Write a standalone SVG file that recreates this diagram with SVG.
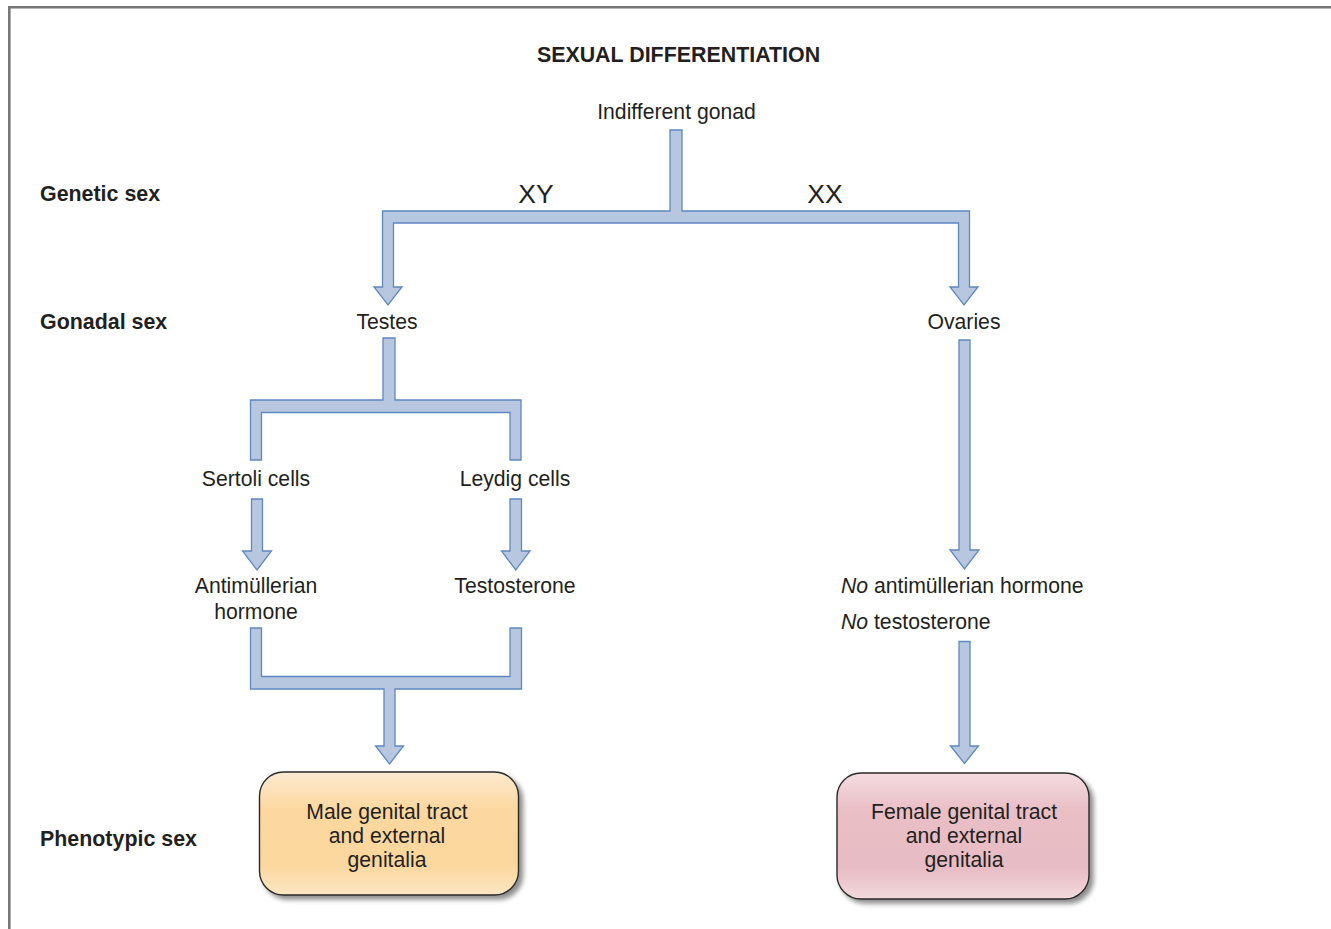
<svg xmlns="http://www.w3.org/2000/svg" width="1331" height="929" viewBox="0 0 1331 929">
<style>
text{font-family:"Liberation Sans",Arial,sans-serif;fill:#231f20;font-size:21.2px}
.b{font-weight:bold;font-size:21.4px}
.c{text-anchor:middle}
.xy{font-size:26.5px}
.arr{fill:#b7c7e0;stroke:#5e88c0;stroke-width:1.3;stroke-linejoin:miter}
.box{stroke:#2a2a2a;stroke-width:1.4}
</style>
<defs>
<linearGradient id="gm" x1="0" y1="0" x2="0" y2="1">
<stop offset="0" stop-color="#fdead0"/>
<stop offset="0.3" stop-color="#fcd8a0"/>
<stop offset="0.75" stop-color="#fbd79d"/>
<stop offset="1" stop-color="#fde6c3"/>
</linearGradient>
<linearGradient id="gf" x1="0" y1="0" x2="0" y2="1">
<stop offset="0" stop-color="#f4dce0"/>
<stop offset="0.3" stop-color="#e9bec5"/>
<stop offset="0.75" stop-color="#e8bcc4"/>
<stop offset="1" stop-color="#f3dadd"/>
</linearGradient>
<filter id="sh" x="-10%" y="-10%" width="130%" height="130%">
<feGaussianBlur in="SourceAlpha" stdDeviation="2.5"/>
<feOffset dx="4" dy="4" result="o"/>
<feComponentTransfer><feFuncA type="linear" slope="0.45"/></feComponentTransfer>
<feMerge><feMergeNode/><feMergeNode in="SourceGraphic"/></feMerge>
</filter>
</defs>
<rect width="1331" height="929" fill="#ffffff"/>
<path d="M9.3,929 V7.2 H1331" fill="none" stroke="#777777" stroke-width="2.6"/>

<text class="b c" x="678.5" y="62">SEXUAL DIFFERENTIATION</text>
<text class="b" x="40" y="201">Genetic sex</text>
<text class="b" x="40" y="329">Gonadal sex</text>
<text class="b" x="40" y="846">Phenotypic sex</text>
<text class="c xy" x="536" y="203">XY</text>
<text class="c xy" x="825" y="203">XX</text>

<g id="connectors">
<polygon class="arr" points="670,130 682,130 682,211 969.5,211 969.5,287 978,287 964,305 950,287 958.5,287 958.5,223 393.5,223 393.5,287 402,287 388,305 374,287 382.5,287 382.5,211 670,211"/>
<polygon class="arr" points="383,338 395,338 395,400 521,400 521,460 510,460 510,412.5 261.5,412.5 261.5,460 250.5,460 250.5,400 383,400"/>
<polygon class="arr" points="251.5,499 262.5,499 262.5,551 271.5,551 257,570 242.5,551 251.5,551"/>
<polygon class="arr" points="510,499 521.5,499 521.5,551 530,551 515.75,570 501.5,551 510,551"/>
<polygon class="arr" points="250.5,628 261.5,628 261.5,676.5 510,676.5 510,628 521.5,628 521.5,689 395,689 395,746 403.5,746 389.5,764 375.5,746 384,746 384,689 250.5,689"/>
<polygon class="arr" points="959,340 970,340 970,550 979,550 964.5,569 950,550 959,550"/>
<polygon class="arr" points="959,641.5 970,641.5 970,746 978.5,746 964.5,763.5 950.5,746 959,746"/>
</g>

<g id="indifferent-gonad"><text class="c" x="676.5" y="119">Indifferent gonad</text></g>
<g id="testes"><text class="c" x="387" y="329">Testes</text></g>
<g id="ovaries"><text class="c" x="964" y="329">Ovaries</text></g>
<g id="sertoli"><text class="c" x="256" y="486">Sertoli cells</text></g>
<g id="leydig"><text class="c" x="515" y="486">Leydig cells</text></g>
<g id="amh"><text class="c" x="256" y="593">Antimüllerian</text><text class="c" x="256" y="619">hormone</text></g>
<g id="testosterone"><text class="c" x="515" y="593">Testosterone</text></g>
<g id="no-hormones"><text x="841" y="593"><tspan font-style="italic">No</tspan> antimüllerian hormone</text><text x="841" y="629"><tspan font-style="italic">No</tspan> testosterone</text></g>

<g id="male">
<rect class="box" x="259.5" y="772" width="259" height="123" rx="24" fill="url(#gm)" filter="url(#sh)"/>
<text class="c" x="387" y="819">Male genital tract</text>
<text class="c" x="387" y="843">and external</text>
<text class="c" x="387" y="867">genitalia</text>
</g>
<g id="female">
<rect class="box" x="837" y="773" width="252" height="126" rx="24" fill="url(#gf)" filter="url(#sh)"/>
<text class="c" x="964" y="819">Female genital tract</text>
<text class="c" x="964" y="843">and external</text>
<text class="c" x="964" y="867">genitalia</text>
</g>
</svg>
